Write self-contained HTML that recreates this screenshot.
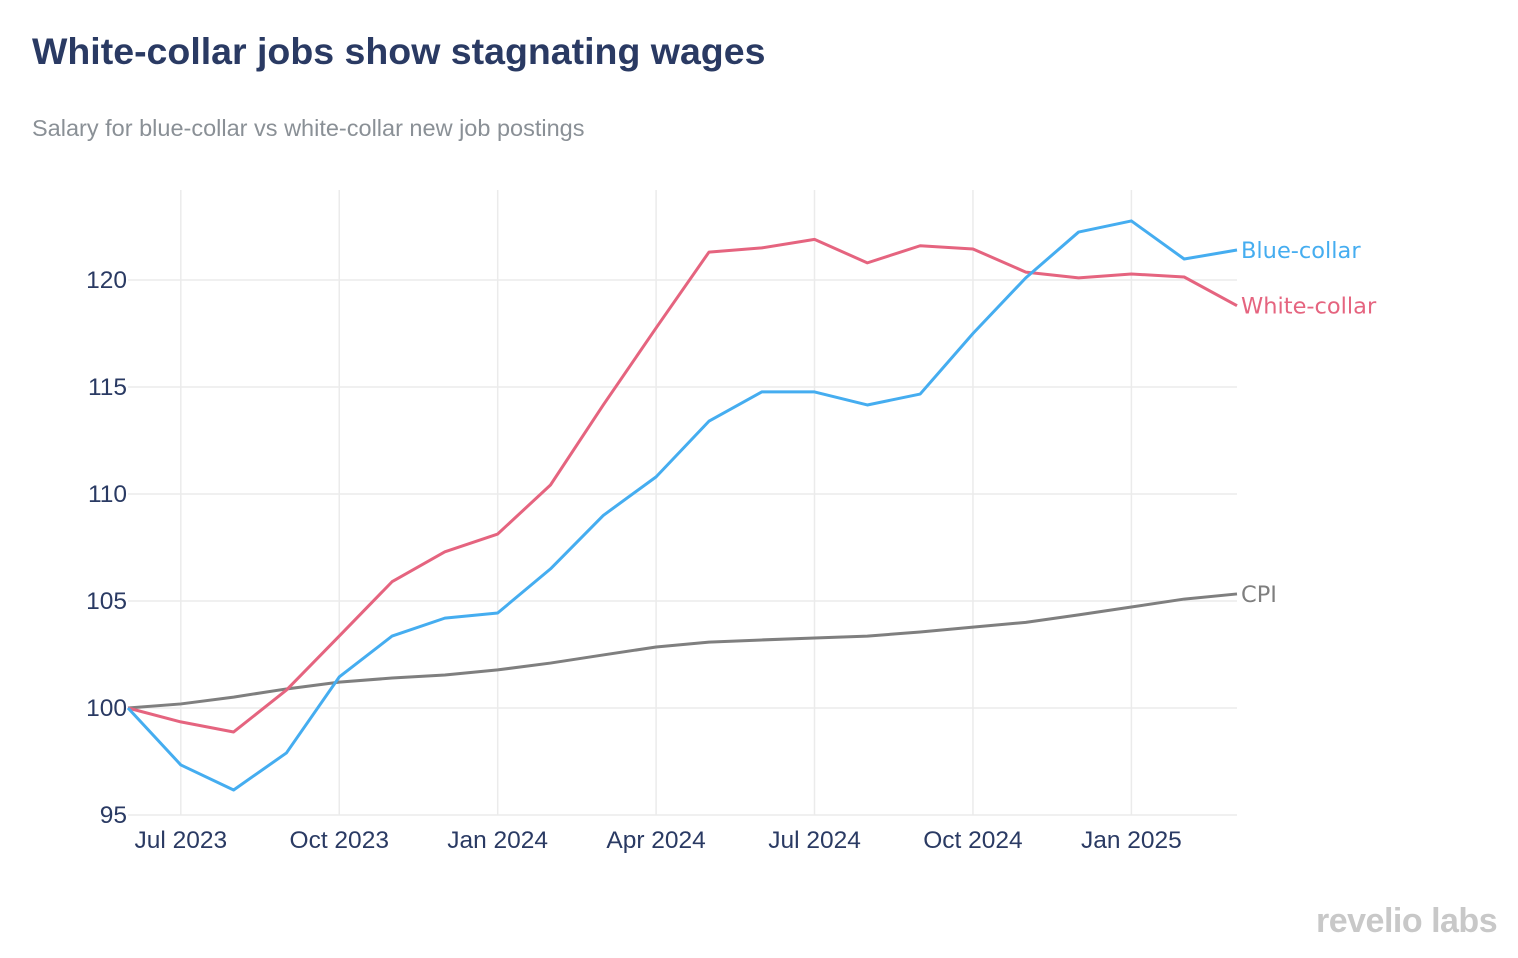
<!DOCTYPE html>
<html><head><meta charset="utf-8"><style>
body{margin:0;background:#fff;width:1518px;height:958px;overflow:hidden;font-family:"Liberation Sans",sans-serif}
#title{position:absolute;left:32px;top:30px;font-size:37.5px;font-weight:bold;color:#2a3a63;margin:0}
#sub{position:absolute;left:32px;top:115px;font-size:23.5px;color:#8a9096}
#logo{position:absolute;left:1316px;top:902px;font-size:34px;font-weight:bold;color:#c8c8c8;letter-spacing:-0.5px}
svg{position:absolute;left:0;top:0}
</style></head><body>
<h1 id="title">White-collar jobs show stagnating wages</h1>
<div id="sub">Salary for blue-collar vs white-collar new job postings</div>
<div id="logo">revelio labs</div>
<svg id="chart" width="1518" height="958"></svg>
<script>
const months=["Jun 2023","Jul 2023","Aug 2023","Sep 2023","Oct 2023","Nov 2023","Dec 2023","Jan 2024","Feb 2024","Mar 2024","Apr 2024","May 2024","Jun 2024","Jul 2024","Aug 2024","Sep 2024","Oct 2024","Nov 2024","Dec 2024","Jan 2025","Feb 2025","Mar 2025"];
const blueCollar=[100,97.34,96.17,97.9,101.45,103.36,104.2,104.44,106.5,109.0,110.8,113.4,114.77,114.77,114.16,114.67,117.5,120.1,122.24,122.76,120.98,121.4];
const whiteCollar=[100,99.35,98.88,100.84,103.36,105.9,107.3,108.13,110.42,114.16,117.76,121.3,121.5,121.9,120.8,121.6,121.45,120.37,120.1,120.28,120.14,118.8];
const cpi=[100,100.19,100.51,100.89,101.21,101.4,101.54,101.78,102.1,102.48,102.85,103.08,103.18,103.27,103.36,103.55,103.78,104.0,104.35,104.72,105.09,105.33];
const yTicks=[95,100,105,110,115,120];
const xTickIdx=[1,4,7,10,13,16,19];
const xTickLabels=["Jul 2023","Oct 2023","Jan 2024","Apr 2024","Jul 2024","Oct 2024","Jan 2025"];
const svg=document.getElementById('chart');const NS='http://www.w3.org/2000/svg';
const x0=128,x1=1237,yTop=190,yBot=815;
const xs=i=>x0+(x1-x0)*i/(months.length-1);
const ys=v=>815-(v-95)*21.4;
function mk(t,a,p){const e=document.createElementNS(NS,t);for(const k in a)e.setAttribute(k,a[k]);(p||svg).appendChild(e);return e;}
yTicks.forEach(v=>{
 const l=mk('line',{x1:x0,x2:x1,y1:ys(v),y2:ys(v),stroke:'#ebebeb','stroke-width':1.5});
 
 
 const t=mk('text',{x:127,y:ys(v)+8,'text-anchor':'end','font-size':24.5,fill:'#2a3a63'});t.textContent=v;
 
 
});
xTickIdx.forEach((i,k)=>{
 const l=mk('line',{x1:xs(i),x2:xs(i),y1:yTop,y2:yBot,stroke:'#ebebeb','stroke-width':1.5});
 
 
 const t=mk('text',{x:xs(i),y:848,'text-anchor':'middle','font-size':24.5,fill:'#2a3a63'});t.textContent=xTickLabels[k];
 
 
});
const series=[[cpi,'#7f7f7f','CPI','cpi'],[whiteCollar,'#e5647f','White-collar','white-collar'],[blueCollar,'#45adf0','Blue-collar','blue-collar']];
series.forEach(([d,c,lab,n])=>{
 const p=mk('path',{d:d.map((v,i)=>(i?'L':'M')+xs(i)+','+ys(v)).join(''),fill:'none',stroke:c,'stroke-width':3,'stroke-linejoin':'round'});
 
 
 const t=mk('text',{x:x1+4,y:ys(d[d.length-1])+8,'font-size':22.5,fill:c,'font-family':'DejaVu Sans'});t.textContent=lab;
 
 
});
</script>
</body></html>
